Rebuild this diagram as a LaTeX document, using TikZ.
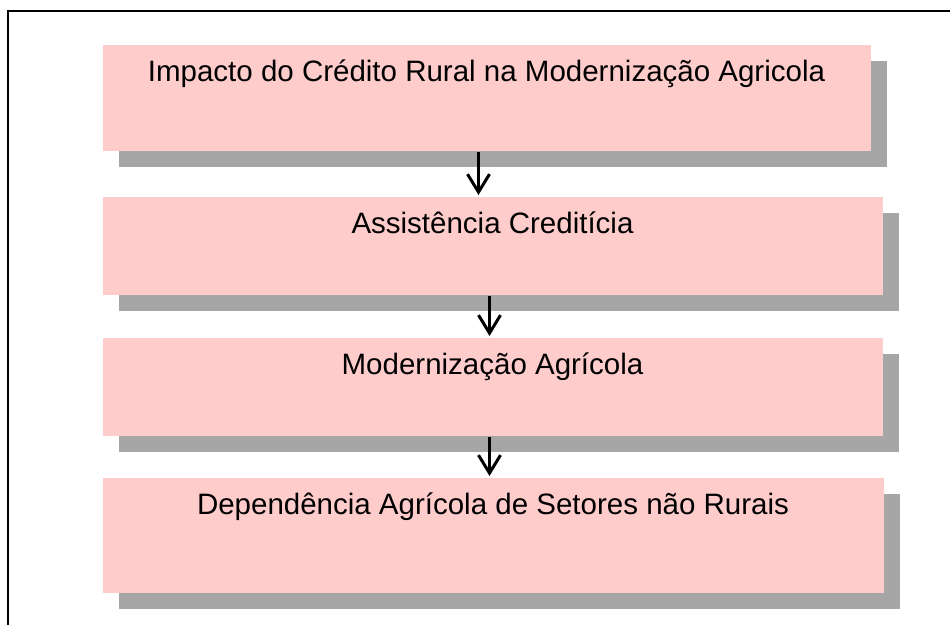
\documentclass[tikz,border=0pt]{standalone}
\usepackage{fontspec}
\setmainfont{Liberation Sans}
\usetikzlibrary{arrows.meta,shadows}
\definecolor{boxpink}{HTML}{FFCCCC}
\definecolor{shadowgray}{HTML}{A6A6A6}

\begin{document}
\begin{tikzpicture}[x=1pt, y=-1pt, >={Straight Barb[length=18pt,width=22pt]}, line width=3pt, font=\fontsize{29.5}{34}\selectfont]

    \tikzstyle{stepbox}=[fill=boxpink, anchor=north west, inner sep=0pt, text height=37pt, drop shadow={shadow xshift=16pt, shadow yshift=-16pt, fill=shadowgray, opacity=1}]

    \useasboundingbox (0,0) rectangle (950,624);
    \clip (0,0) rectangle (950,624);
    \draw[line width=2pt] (8,640) -- (8,11) -- (960,11);

    \node[stepbox, minimum width=768pt, text depth=69pt] (impacto) at (101,43) {Impacto do Crédito Rural na Modernização Agricola};
    \node[stepbox, minimum width=780pt, text depth=61pt] (assist) at (101,195) {Assistência Creditícia};
    \node[stepbox, minimum width=780pt, text depth=61pt] (modern) at (101,336) {Modernização Agrícola};
    \node[stepbox, minimum width=781pt, text depth=78pt] (depend) at (101,476) {Dependência Agrícola de Setores não Rurais};

    \draw[->] ([xshift=-8pt]impacto.south) -- ([xshift=-8pt]impacto.south |- assist.north);
    \draw[->] ([xshift=-3pt]assist.south) -- ([xshift=-3pt]assist.south |- modern.north);
    \draw[->] ([xshift=-3pt]modern.south) -- ([xshift=-3pt]modern.south |- depend.north);
\end{tikzpicture}
\end{document}
